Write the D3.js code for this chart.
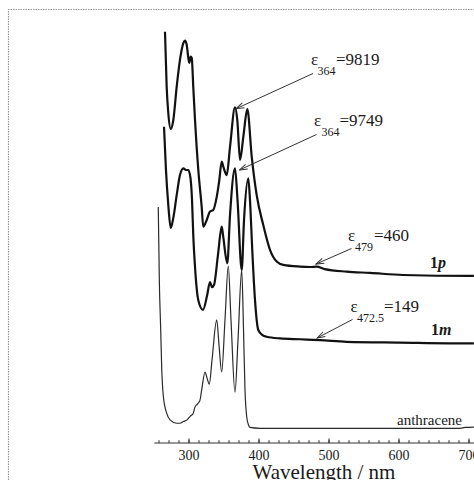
<!DOCTYPE html>
<html>
<head>
<meta charset="utf-8">
<script src="https://cdn.jsdelivr.net/npm/d3@7"></script>
<style>
  html, body { margin: 0; padding: 0; background: #fff; }
  svg { display: block; }
  text { font-family: "Liberation Serif", "Times New Roman", serif; fill: #1a1a1a; }
</style>
</head>
<body>
<svg id="chart" width="474" height="480"></svg>
<script>
// ---- data (wavelength nm, relative absorbance, arbitrary offset units) ----
const wl_1p = [265.7,268.1,270.4,273.9,277.6,282.4,287.1,291.9,294.3,296.7,299,300.4,302.4,303.9,306.1,308.6,313.3,318.1,320.4,325.3,330,334.7,339.6,343.3,346.7,349,353.9,358.6,365.7,369,372.9,377.6,383.3,389.6,396.7,406.1,415.7,425.3,434.7,458.6,472.9,482.4,494,525.3,558.6,605.7,701.4,707];
const abs_1p = [97.9,84.8,78.6,74.8,76.9,84.8,91.2,95.2,95.8,94.8,91.7,90.5,92.0,91.7,84.8,76.9,65.0,56.3,51.5,53.1,55.1,55.5,58.6,62.6,67.0,65.8,63.8,70.5,79.9,76.9,67.4,72.9,79.5,68.2,59.0,51.9,46.0,43.2,42.4,42.0,41.9,42.0,41.4,40.8,40.5,40.0,39.8,39.8];

const wl_1m = [264.3,267.1,270.4,273.9,277.6,282.4,287.1,291.9,295.7,299,302.1,304.3,306.1,308.6,313.3,320,325.7,330,332.9,335.7,341.4,346.7,348.6,354.7,358.6,365.7,369.3,375.3,378.6,384.7,387.1,390.5,394.3,399,405,411,430,458.6,487.1,525.3,601.4,701.4,707];
const abs_1m = [75.3,65.0,56.7,51.2,53.6,59.0,63.8,65.4,65.0,65.0,63.1,57.9,49.5,41.9,34.0,31.7,35.0,38.3,37.1,37.6,44.8,51.5,49.5,42.8,54.3,65.4,57.9,41.2,53.1,63.0,57.9,45.5,34.0,26.9,25.7,25.3,24.9,24.7,24.5,24.1,23.9,23.7,23.7];

const wl_an = [256.1,257.6,259.6,261,263.3,268.1,272.9,282.4,287.1,291.9,297.1,301.4,306.1,308.6,313.3,315.7,318.1,322.9,325.7,329,332.9,339.6,342.9,346.7,351.4,356.1,360,365.7,370,375.3,377.9,380,382.4,385,387.1,401.4,687,694.3,707];
const abs_an = [56.2,38.8,26.9,17.9,11.2,7.1,5.5,4.7,4.7,5.1,5.5,6.3,7.1,8.6,9.5,10.2,12.6,16.9,15.5,14.0,19.8,29.3,23.3,16.9,29.3,42.1,29.3,12.1,24.5,41.2,26.9,12.6,6.3,4.3,3.7,3.5,3.5,3.7,3.8];

const seriesNames = ["1p", "1m", "anthracene"];
const majorTicks = [300, 400, 500, 600, 700];
const xTitle = "Wavelength / nm";

// ---- layout ----
const svg = d3.select("#chart");
const x = d3.scaleLinear().domain([300, 700]).range([189, 469]);
const y = d3.scaleLinear().domain([0, 100]).range([443, 23]);

// dashed frame (left and top edges visible)
svg.append("path")
  .attr("d", "M8.5,480 V9.5 H474")
  .attr("fill", "none")
  .attr("stroke", "#9a9a9a")
  .attr("stroke-width", 1.2)
  .attr("stroke-dasharray", "1.5,1");

// ---- curves ----
const line = d3.line().x(d => x(d[0])).y(d => y(d[1])).curve(d3.curveMonotoneX);
const zip = (a, b) => a.map((v, i) => [v, b[i]]);

svg.append("path").datum(zip(wl_an, abs_an))
  .attr("d", line).attr("fill", "none")
  .attr("stroke", "#2a2a2a").attr("stroke-width", 1.2).attr("stroke-linejoin", "round");
svg.append("path").datum(zip(wl_1m, abs_1m))
  .attr("d", line).attr("fill", "none")
  .attr("stroke", "#111").attr("stroke-width", 2.2).attr("stroke-linejoin", "round");
svg.append("path").datum(zip(wl_1p, abs_1p))
  .attr("d", line).attr("fill", "none")
  .attr("stroke", "#111").attr("stroke-width", 2.2).attr("stroke-linejoin", "round");

// ---- x axis ----
const axisY = y(0);
const axisG = svg.append("g");
axisG.append("line")
  .attr("x1", x(250.5)).attr("x2", 474).attr("y1", axisY).attr("y2", axisY)
  .attr("stroke", "#333").attr("stroke-width", 1.1);
const minorStep = 100 / 7;
const minorTicks = d3.range(300 - 3 * minorStep, 708, minorStep);
axisG.selectAll("line.minor").data(minorTicks).join("line")
  .attr("class", "minor")
  .attr("x1", d => x(d)).attr("x2", d => x(d))
  .attr("y1", axisY).attr("y2", axisY - 2.8)
  .attr("stroke", "#333").attr("stroke-width", 1);
axisG.selectAll("line.major").data(majorTicks).join("line")
  .attr("class", "major")
  .attr("x1", d => x(d)).attr("x2", d => x(d))
  .attr("y1", axisY).attr("y2", axisY - 4.5)
  .attr("stroke", "#333").attr("stroke-width", 1.1);
axisG.selectAll("text.tl").data(majorTicks).join("text")
  .attr("class", "tl")
  .attr("x", d => x(d)).attr("y", 459.5)
  .attr("text-anchor", "middle")
  .attr("font-size", 14)
  .text(d => d);
svg.append("text")
  .attr("x", 324).attr("y", 478.5)
  .attr("text-anchor", "middle")
  .attr("font-size", 21)
  .text(xTitle);

// ---- series labels ----
const lab1p = svg.append("text").attr("x", 430).attr("y", 268).attr("font-size", 16).attr("font-weight", "bold");
lab1p.append("tspan").text("1");
lab1p.append("tspan").attr("font-style", "italic").text("p");
const lab1m = svg.append("text").attr("x", 431).attr("y", 335).attr("font-size", 16).attr("font-weight", "bold");
lab1m.append("tspan").text("1");
lab1m.append("tspan").attr("font-style", "italic").text("m");
svg.append("text").attr("x", 397).attr("y", 424.5).attr("font-size", 15).text(seriesNames[2]);

// ---- annotations ----
const defs = svg.append("defs");
defs.append("marker")
  .attr("id", "ah").attr("viewBox", "-9 -4 10 8")
  .attr("refX", 0).attr("refY", 0)
  .attr("markerWidth", 10).attr("markerHeight", 8)
  .attr("markerUnits", "userSpaceOnUse")
  .attr("orient", "auto")
  .append("path")
  .attr("d", "M-8,-2.6 L0,0 L-8,2.6")
  .attr("fill", "none").attr("stroke", "#333").attr("stroke-width", 1);

function eps(xe, yb, sub, val, xs, xv) {
  svg.append("text").attr("x", xe).attr("y", yb).attr("font-size", 17).text("ε");
  svg.append("text").attr("x", xs).attr("y", yb + 10).attr("font-size", 12).text(sub);
  svg.append("text").attr("x", xv).attr("y", yb).attr("font-size", 17).text(val);
}
function arrow(x1, y1, x2, y2) {
  svg.append("line")
    .attr("x1", x1).attr("y1", y1).attr("x2", x2).attr("y2", y2)
    .attr("stroke", "#333").attr("stroke-width", 1)
    .attr("marker-end", "url(#ah)");
}
eps(311, 65, "364", "=9819", 317.5, 336);
arrow(313, 73.5, x(367.3), y(79.6));
eps(314, 126, "364", "=9749", 321.5, 339.5);
arrow(316.5, 134.5, x(372), y(65.0));
eps(348, 241, "479", "=460", 355, 374);
arrow(351.5, 248.5, x(481.4), y(42.6));
eps(350.5, 312, "472.5", "=149", 357, 384);
arrow(352.5, 319.5, x(483), y(25.0));
</script>
</body>
</html>
